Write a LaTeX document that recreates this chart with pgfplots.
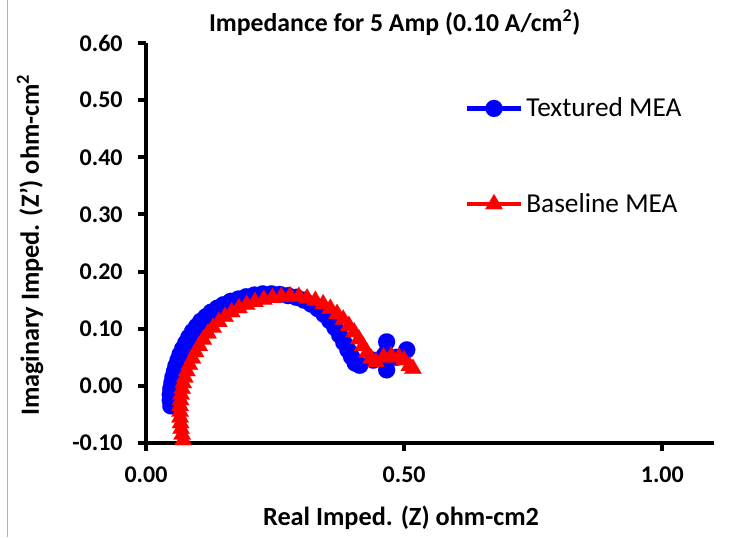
\documentclass[border=0pt]{standalone}
\usepackage{fontspec}
\setmainfont{Carlito}
\usepackage{pgfplots}
\pgfplotsset{compat=1.18}
\begin{document}
\begin{tikzpicture}[x=1pt,y=1pt]
\useasboundingbox (-109.5,-70.5) rectangle (449.25,332.25);
\draw[gray!60, line width=1pt] (-104,-70.5) -- (-104,332.25);
\begin{axis}[at={(0,0)}, anchor=south west, scale only axis, width=426pt, height=300pt,
 xmin=0, xmax=1.1, ymin=-0.1, ymax=0.6,
 axis x line=bottom, axis y line=left, axis line style={-, line width=3pt},
 xtick={0,0.5,1}, ytick={-0.1,0,0.1,0.2,0.3,0.4,0.5,0.6},
 minor tick num=0,
 tick align=outside, major tick length=6pt, tick style={line width=3pt, black},
 /pgf/number format/.cd, fixed, fixed zerofill, precision=2, assume math mode=true, /pgfplots/.cd,
 tick label style={font=\fontsize{18}{21}\selectfont\bfseries},
 yticklabel style={xshift=-8pt},
 xticklabel style={yshift=-8pt},
 title={Impedance for 5 Amp (0.10 A/cm\textsuperscript{2})},
 title style={font=\fontsize{19.3}{23}\selectfont\bfseries, at={(axis description cs:0.438,1.03)}, anchor=center},
 xlabel={{\bfseries Real Imped. (Z) ohm-cm}2},
 ylabel={Imaginary Imped. (Z’) ohm-cm\textsuperscript{2}},
 label style={font=\fontsize{19.7}{23}\selectfont\bfseries},
 xlabel style={at={(axis description cs:0.449,-0.1875)}, anchor=center},
 ylabel style={at={(axis description cs:-0.204,0.495)}, anchor=center},
 legend style={draw=none, fill=none, at={(axis description cs:0.56,0.87)}, anchor=north west,
   font=\fontsize{20.5}{24}\selectfont, row sep=52pt, inner sep=0pt,
   /tikz/every even column/.style={column sep=3pt}},
 legend cell align=left,
 legend image code/.code={\draw[mark repeat=2,mark phase=2] plot coordinates {(0pt,0pt) (20.5pt,0pt) (41pt,0pt)};},
]
\addplot[blue, line width=3.5pt, mark=*, mark size=6.4pt, mark options={solid, fill=blue, draw=blue, line width=0.1pt}] coordinates {
(0.048,-0.035)(0.047,-0.025)(0.047,-0.015)(0.048,-0.005)(0.050,0.005)(0.052,0.015)(0.055,0.025)(0.058,0.035)(0.062,0.045)(0.066,0.055)(0.071,0.065)(0.077,0.075)(0.083,0.085)(0.090,0.095)(0.098,0.104)(0.106,0.113)(0.116,0.121)(0.126,0.129)(0.138,0.136)(0.150,0.142)(0.164,0.148)(0.179,0.152)(0.194,0.156)(0.210,0.159)(0.226,0.161)(0.243,0.161)(0.259,0.160)(0.275,0.158)(0.291,0.155)(0.306,0.150)(0.320,0.143)(0.333,0.135)(0.345,0.125)(0.356,0.114)(0.366,0.102)(0.375,0.089)(0.383,0.076)(0.391,0.063)(0.398,0.051)(0.405,0.040)(0.414,0.036)(0.440,0.045)(0.466,0.077)(0.466,0.028)(0.485,0.050)(0.505,0.063)
};
\addlegendentry{Textured MEA}
\addplot[red, line width=3.5pt, mark=triangle*, mark size=7.5pt, mark options={solid, fill=red, draw=red, line width=0.1pt}] coordinates {
(0.072,-0.095)(0.070,-0.085)(0.068,-0.075)(0.067,-0.065)(0.066,-0.055)(0.066,-0.045)(0.066,-0.035)(0.067,-0.025)(0.068,-0.015)(0.070,-0.005)(0.072,0.005)(0.075,0.015)(0.079,0.026)(0.084,0.037)(0.090,0.048)(0.096,0.059)(0.103,0.070)(0.111,0.081)(0.120,0.092)(0.130,0.102)(0.141,0.112)(0.153,0.121)(0.166,0.129)(0.180,0.136)(0.195,0.142)(0.211,0.147)(0.228,0.151)(0.245,0.154)(0.262,0.156)(0.279,0.157)(0.296,0.156)(0.312,0.153)(0.328,0.149)(0.343,0.143)(0.357,0.135)(0.370,0.126)(0.382,0.116)(0.393,0.105)(0.403,0.094)(0.412,0.082)(0.420,0.070)(0.428,0.058)(0.436,0.048)(0.445,0.042)(0.460,0.050)(0.475,0.052)(0.490,0.050)(0.500,0.045)(0.510,0.035)(0.517,0.030)
};
\addlegendentry{Baseline MEA}
\end{axis}
\end{tikzpicture}
\end{document}
